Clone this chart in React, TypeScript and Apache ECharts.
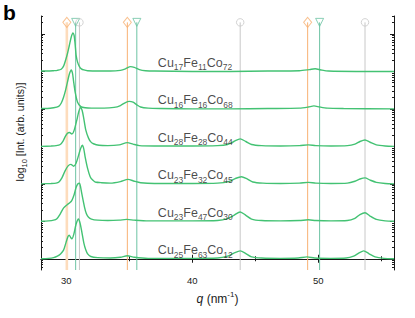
import React, { useEffect, useRef } from "react";
import * as echarts from "echarts";

const FONT = "'Liberation Sans', Arial, Helvetica, sans-serif";

// composition labels
const cu = [17, 16, 28, 23, 23, 25];
const fe = [11, 16, 28, 32, 47, 63];
const co = [72, 68, 44, 45, 30, 12];
// vertical offset (decades) of each pattern
const offsets = [5, 4, 3, 2, 1, 0];

// patterns: [q (nm^-1), log10 intensity above baseline (decades)]
const c1 = [[28,0.01],[28.5,0.01],[29,0.02],[29.3,0.03],[29.6,0.06],[29.8,0.15],[29.95,0.3],[30.1,0.48],[30.25,0.7],[30.4,0.92],[30.53,1.03],[30.62,0.97],[30.7,0.75],[30.79,0.42],[30.9,0.25],[31.05,0.13],[31.2,0.07],[31.4,0.04],[31.7,0.02],[32.5,0.01],[33.5,0.01],[34.3,0.03],[34.7,0.07],[35.1,0.13],[35.4,0.11],[35.8,0.05],[36.3,0.02],[37,0.01],[40,0.0],[43,0.0],[46,0.01],[48.5,0.02],[49.3,0.05],[49.75,0.07],[50.2,0.04],[50.8,0.01],[53,0.0],[56,0.0]];
const c2 = [[28,0.01],[28.5,0.01],[29,0.03],[29.4,0.07],[29.6,0.15],[29.79,0.31],[29.95,0.5],[30.1,0.72],[30.25,0.93],[30.4,1.04],[30.5,0.95],[30.58,0.75],[30.71,0.45],[30.9,0.18],[31.16,0.06],[31.5,0.03],[32,0.02],[33,0.02],[33.8,0.04],[34.3,0.09],[34.7,0.17],[35.0,0.2],[35.3,0.18],[35.6,0.11],[35.9,0.05],[36.5,0.02],[37.5,0.01],[40,0.0],[43,0.0],[46,0.01],[48.5,0.02],[49.2,0.05],[49.65,0.08],[50.1,0.05],[50.7,0.02],[52,0.01],[56,0.0]];
const c3 = [[28,0.0],[28.8,0.01],[29.2,0.02],[29.53,0.05],[29.75,0.14],[29.92,0.26],[30.1,0.35],[30.26,0.37],[30.45,0.33],[30.62,0.42],[30.84,0.7],[31.0,0.93],[31.16,1.04],[31.27,0.95],[31.37,0.79],[31.55,0.44],[31.77,0.22],[31.95,0.12],[32.16,0.07],[32.6,0.03],[33.3,0.02],[34.2,0.04],[34.85,0.1],[35.3,0.06],[35.8,0.02],[37,0.01],[40,0.01],[42,0.02],[42.8,0.05],[43.3,0.13],[43.8,0.2],[44.25,0.13],[44.7,0.05],[45.5,0.02],[47,0.01],[48.5,0.02],[49.2,0.04],[49.8,0.02],[51,0.01],[52.3,0.02],[52.9,0.06],[53.3,0.13],[53.7,0.17],[54.1,0.11],[54.6,0.04],[55.3,0.01],[56,0.0]];
const c4 = [[28,0.0],[28.8,0.01],[29.2,0.02],[29.4,0.04],[29.66,0.16],[29.9,0.34],[30.15,0.48],[30.37,0.52],[30.58,0.47],[30.78,0.55],[30.98,0.76],[31.15,0.95],[31.29,1.03],[31.4,0.92],[31.5,0.72],[31.69,0.42],[31.9,0.19],[32.1,0.1],[32.3,0.05],[32.8,0.03],[33.5,0.02],[34.3,0.06],[34.9,0.12],[35.4,0.07],[35.9,0.03],[37,0.01],[40,0.01],[42,0.02],[42.9,0.06],[43.4,0.14],[43.9,0.19],[44.35,0.13],[44.8,0.05],[45.6,0.02],[47,0.01],[48.5,0.02],[49.2,0.04],[49.8,0.02],[51,0.01],[52.3,0.02],[52.9,0.07],[53.3,0.13],[53.7,0.16],[54.1,0.1],[54.6,0.04],[55.3,0.01],[56,0.0]];
const c5 = [[28,0.0],[28.6,0.01],[29,0.03],[29.26,0.07],[29.53,0.2],[29.8,0.36],[30.1,0.45],[30.3,0.5],[30.45,0.56],[30.62,0.7],[30.79,0.91],[30.95,1.01],[31.05,1.02],[31.15,0.9],[31.24,0.73],[31.45,0.38],[31.6,0.2],[31.77,0.11],[32.0,0.06],[32.5,0.03],[33.3,0.02],[34.2,0.03],[34.8,0.05],[35.4,0.03],[36.5,0.01],[40,0.01],[42,0.02],[42.8,0.07],[43.3,0.16],[43.8,0.25],[44.25,0.16],[44.7,0.06],[45.5,0.02],[47,0.01],[48.5,0.02],[49.2,0.04],[49.8,0.02],[51,0.01],[52.3,0.02],[52.9,0.08],[53.3,0.18],[53.7,0.23],[54.1,0.14],[54.6,0.05],[55.3,0.01],[56,0.0]];
const c6 = [[28,0.0],[28.6,0.01],[29,0.03],[29.3,0.07],[29.55,0.13],[29.79,0.23],[30.0,0.45],[30.15,0.6],[30.24,0.63],[30.35,0.57],[30.45,0.53],[30.6,0.65],[30.78,0.92],[30.97,1.06],[31.1,0.95],[31.22,0.75],[31.4,0.42],[31.55,0.24],[31.7,0.13],[31.95,0.06],[32.5,0.03],[33.5,0.02],[34.3,0.04],[34.85,0.08],[35.4,0.04],[36.5,0.01],[40,0.01],[42,0.02],[42.8,0.07],[43.3,0.15],[43.8,0.21],[44.25,0.14],[44.7,0.05],[45.5,0.02],[47,0.01],[48.4,0.02],[49.1,0.05],[49.7,0.02],[51,0.01],[52.2,0.02],[52.8,0.07],[53.2,0.15],[53.6,0.21],[54.0,0.14],[54.5,0.05],[55.2,0.01],[56,0.0]];
const curves = [c1, c2, c3, c4, c5, c6];

// reference peak positions
const orangeQ = [30.05, 34.85, 49.15];
const tealQ = [30.75, 35.6, 50.1];
const grayQ = [31.05, 43.8, 53.7];

// axis ticks
const xMajor = [30, 40, 50];
const xMinor = [35, 45, 55];
const X_MIN = 28;
const X_MAX = 56;
const Y_MIN = -0.3;
const Y_MAX = 6.48;
const yMajor = [0, 1, 2, 3, 4, 5, 6];
const yMinor: number[] = [];
for (let k = -1; k <= 6; k++) {
  for (let m = 2; m <= 9; m++) {
    const v = k + Math.log10(m);
    if (v > Y_MIN && v < Y_MAX) yMinor.push(v);
  }
}

const LABEL_Q = 37.27;
const LABEL_DY = 0.23;
const MARK_Y = 6.31;

const INK = "#1a1a1a";
const GREEN = "#43c273";
const ORANGE = "#f8b274";
const PEACH = "#fddcbc";
const TEAL = "#6cc3a3";
const GRAY = "#c8c8c8";

function xAx(position: string, ticks: number[], len: number, main: boolean) {
  return {
    type: "value",
    min: X_MIN,
    max: X_MAX,
    position,
    axisLine: { show: main, lineStyle: { color: INK, width: 1 } },
    axisTick: { show: true, inside: true, length: len, customValues: ticks, lineStyle: { color: INK, width: 1 } },
    axisLabel: main && position === "bottom"
      ? { show: true, customValues: xMajor, fontSize: 9.5, color: INK, margin: 5, fontFamily: FONT }
      : { show: false },
    splitLine: { show: false },
  };
}
function yAx(position: string, ticks: number[], len: number, main: boolean) {
  return {
    type: "value",
    min: Y_MIN,
    max: Y_MAX,
    position,
    axisLine: { show: main, lineStyle: { color: INK, width: 1 } },
    axisTick: { show: true, inside: true, length: len, customValues: ticks, lineStyle: { color: INK, width: 1 } },
    axisLabel: { show: false },
    splitLine: { show: false },
  };
}

function vLine(q: number, color: string, width: number) {
  return {
    type: "line",
    xAxisIndex: 0,
    yAxisIndex: 0,
    z: 2,
    silent: true,
    showSymbol: false,
    symbol: "none",
    lineStyle: { color, width },
    data: [[q, Y_MIN], [q, MARK_Y]],
  };
}

function markers(qs: number[], color: string, symbol: string, rotate: number, size: any) {
  return {
    type: "scatter",
    xAxisIndex: 0,
    yAxisIndex: 0,
    z: 2,
    silent: true,
    symbol,
    symbolRotate: rotate,
    symbolSize: size,
    itemStyle: { color: "rgba(255,255,255,0)", borderColor: color, borderWidth: 1 },
    data: qs.map((q) => [q, MARK_Y]),
  };
}

export default function App() {
  const ref = useRef<HTMLDivElement>(null);
  useEffect(() => {
    if (!ref.current) return;
    const chart = echarts.init(ref.current, null, { renderer: "svg" });
    const labelRich = {
      m: { fontSize: 12.5, lineHeight: 18, fontFamily: FONT, color: INK },
      s: { fontSize: 8.5, lineHeight: 12, verticalAlign: "bottom", fontFamily: FONT, color: INK },
    };
    const option: any = {
      animation: false,
      backgroundColor: "#ffffff",
      grid: { left: 41, right: 21, top: 16, bottom: 48, containLabel: false },
      xAxis: [
        xAx("bottom", xMajor, 4, true),
        xAx("bottom", xMinor, 2.5, false),
        xAx("top", xMajor, 4, true),
        xAx("top", xMinor, 2.5, false),
      ],
      yAxis: [
        yAx("left", yMajor, 4, true),
        yAx("left", yMinor, 2, false),
        yAx("right", yMajor, 4, true),
        yAx("right", yMinor, 2, false),
      ],
      series: [
        ...orangeQ.map((q, i) => (i === 0 ? vLine(q, PEACH, 2.6) : vLine(q, ORANGE, 1))),
        ...tealQ.map((q) => vLine(q, TEAL, 1)),
        ...grayQ.map((q) => vLine(q, GRAY, 1)),
        markers(orangeQ, ORANGE, "diamond", 0, [8, 10]),
        markers(tealQ, TEAL, "triangle", 180, 8),
        markers(grayQ, GRAY, "circle", 0, 7.5),
        ...curves.map((c, i) => ({
          name: "p" + i,
          type: "line",
          xAxisIndex: 0,
          yAxisIndex: 0,
          z: 3,
          showSymbol: false,
          symbol: "none",
          smooth: 0.25,
          lineStyle: { color: GREEN, width: 1.4 },
          data: c.map(([q, v]) => [q, v + offsets[i]]),
        })),
        {
          name: "labels",
          type: "scatter",
          xAxisIndex: 0,
          yAxisIndex: 0,
          z: 4,
          symbolSize: 0,
          data: offsets.map((o) => [LABEL_Q, o + LABEL_DY]),
          label: {
            show: true,
            position: "right",
            distance: 0,
            formatter: (p: any) => {
              const i = p.dataIndex;
              return `{m|Cu}{s|${cu[i]}}{m|Fe}{s|${fe[i]}}{m|Co}{s|${co[i]}}`;
            },
            rich: labelRich,
          },
        },
      ],
      graphic: [
        {
          type: "text",
          x: 3,
          y: 2,
          style: { text: "b", font: `bold 21px ${FONT}`, fill: "#000" },
        },
        {
          type: "text",
          x: 20,
          y: 132,
          rotation: Math.PI / 2,
          style: {
            text: "{m|log}{s|10}{m| [Int. (arb. units)]}",
            align: "center",
            verticalAlign: "middle",
            fill: INK,
            rich: {
              m: { fontSize: 10.5, lineHeight: 16, fontFamily: FONT, fill: INK, color: INK },
              s: { fontSize: 7.5, lineHeight: 11, verticalAlign: "bottom", fontFamily: FONT, fill: INK, color: INK },
            },
          },
        },
        {
          type: "text",
          x: 217.5,
          y: 299,
          style: {
            text: "{i|q}{m| (nm}{p|-1}{m|)}",
            align: "center",
            verticalAlign: "middle",
            fill: INK,
            rich: {
              i: { fontSize: 12, lineHeight: 18, fontStyle: "italic", fontFamily: FONT, fill: INK, color: INK },
              m: { fontSize: 12, lineHeight: 18, fontFamily: FONT, fill: INK, color: INK },
              p: { fontSize: 8, lineHeight: 10, verticalAlign: "top", fontFamily: FONT, fill: INK, color: INK },
            },
          },
        },
      ],
    };
    chart.setOption(option);
    return () => chart.dispose();
  }, []);
  return <div ref={ref} style={{ position: "absolute", left: 0, top: 0, width: 415, height: 318 }} />;
}
